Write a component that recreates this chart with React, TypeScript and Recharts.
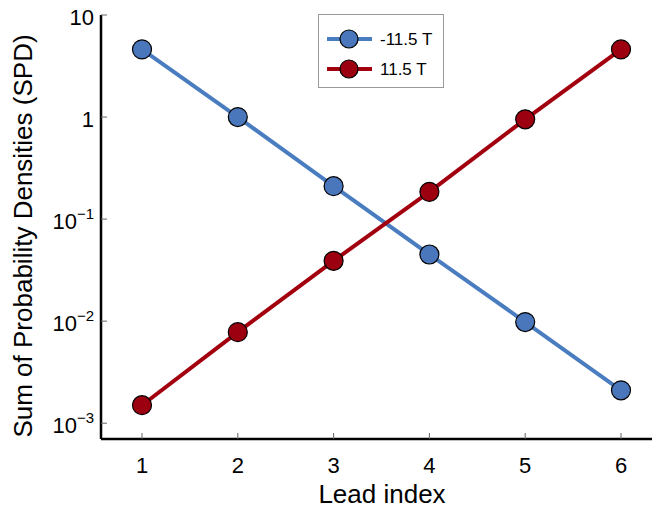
import { LineChart, Line, XAxis, YAxis, Legend } from 'recharts';

const leadIndex = [1, 2, 3, 4, 5, 6];
const spdNeg = [4.6, 1.0, 0.21, 0.045, 0.0098, 0.0021];
const spdPos = [0.0015, 0.0078, 0.039, 0.185, 0.95, 4.6];
const yTicks = [0.001, 0.01, 0.1, 1, 10];
const seriesNames = ['-11.5 T', '11.5 T'];

const BLUE = '#4a7dc0';
const BLUE_DOT = '#4a76bb';
const RED = '#a3000f';
const RED_DOT = '#9c0010';
const FONT = '"Liberation Sans", Arial, Helvetica, sans-serif';

const data = leadIndex.map((lead, i) => ({ lead, neg: spdNeg[i], pos: spdPos[i] }));

const exponents: Record<number, string> = { 0.001: '−3', 0.01: '−2', 0.1: '−1' };

function BottomTick({ x, y, payload }: any) {
  return (
    <g>
      <line x1={x} x2={x} y1={y} y2={y - 6} stroke="#666" strokeWidth={1} />
      <text x={x} y={y + 34} textAnchor="middle" fontSize={22} fontFamily={FONT} fill="#000">
        {payload.value}
      </text>
    </g>
  );
}

function TopTick({ x, y }: any) {
  return <line x1={x} x2={x} y1={y} y2={y + 6} stroke="#666" strokeWidth={1} />;
}

function LeftTick({ x, y, payload }: any) {
  const v = payload.value;
  const exp = exponents[v];
  return (
    <g>
      <line x1={x} x2={x + 6} y1={y} y2={y} stroke="#666" strokeWidth={1} />
      <text x={x - 7} y={y + 10} textAnchor="end" fontSize={22} fontFamily={FONT} fill="#000">
        {exp ? (
          <>
            <tspan>10</tspan>
            <tspan fontSize={15} dy={-10}>{exp}</tspan>
          </>
        ) : (
          String(v)
        )}
      </text>
    </g>
  );
}

function LegendBox() {
  const rows = [
    { name: seriesNames[0], line: BLUE, dot: BLUE_DOT },
    { name: seriesNames[1], line: RED, dot: RED_DOT },
  ];
  return (
    <div style={{ width: 126, height: 74, border: '1px solid #999', background: '#fff', boxSizing: 'border-box' }}>
      <svg width={124} height={72}>
        {rows.map((r, i) => {
          const cy = 24 + i * 30;
          return (
            <g key={r.name}>
              <line x1={8} x2={53} y1={cy} y2={cy} stroke={r.line} strokeWidth={4} />
              <circle cx={30} cy={cy} r={9} fill={r.dot} stroke="#000" strokeWidth={1.2} />
              <text x={61} y={cy + 6} fontSize={17} fontFamily={FONT} fill="#000">
                {r.name}
              </text>
            </g>
          );
        })}
      </svg>
    </div>
  );
}

export default function App() {
  return (
    <div style={{ position: 'absolute', left: 0, top: 0, width: 652, height: 513, overflow: 'hidden', background: '#fff' }}>
      <LineChart width={680} height={513} data={data} margin={{ top: 15, right: 20, bottom: 0, left: 0 }}>
        <XAxis
          dataKey="lead"
          type="number"
          domain={[1, 6]}
          ticks={leadIndex}
          interval={0}
          padding={{ left: 41, right: 39 }}
          height={74}
          tickSize={0}
          tickMargin={0}
          tickLine={false}
          axisLine={{ stroke: '#000', strokeWidth: 2.5 }}
          tick={<BottomTick />}
          label={{
            content: () => (
              <text x={382} y={503} textAnchor="middle" fontSize={26} fontFamily={FONT} fill="#000">
                Lead index
              </text>
            ),
          }}
        />
        <XAxis
          xAxisId="top"
          orientation="top"
          dataKey="lead"
          type="number"
          domain={[1, 6]}
          ticks={leadIndex}
          interval={0}
          padding={{ left: 41, right: 39 }}
          height={0}
          tickSize={0}
          tickMargin={0}
          tickLine={false}
          axisLine={{ stroke: '#000', strokeWidth: 2.5 }}
          tick={<TopTick />}
        />
        <YAxis
          scale="log"
          type="number"
          domain={[0.0007, 10]}
          allowDataOverflow
          ticks={yTicks}
          interval={0}
          width={101}
          tickSize={0}
          tickMargin={0}
          tickLine={false}
          axisLine={{ stroke: '#000', strokeWidth: 2.5 }}
          tick={<LeftTick />}
          label={{
            content: () => (
              <text
                transform="translate(32,236) rotate(-90)"
                textAnchor="middle"
                fontSize={26}
                fontFamily={FONT}
                fill="#000"
              >
                Sum of Probability Densities (SPD)
              </text>
            ),
          }}
        />
        <Legend
          layout="horizontal"
          verticalAlign="middle"
          align="center"
          content={<LegendBox />}
          wrapperStyle={{ position: 'absolute', left: 318, top: 14, width: 126, height: 74 }}
        />
        <Line
          dataKey="neg"
          name={seriesNames[0]}
          stroke={BLUE}
          strokeWidth={4}
          dot={{ r: 9.5, fill: BLUE_DOT, stroke: '#000', strokeWidth: 1.2 }}
          isAnimationActive={false}
        />
        <Line
          dataKey="pos"
          name={seriesNames[1]}
          stroke={RED}
          strokeWidth={4}
          dot={{ r: 9.5, fill: RED_DOT, stroke: '#000', strokeWidth: 1.2 }}
          isAnimationActive={false}
        />
      </LineChart>
    </div>
  );
}
